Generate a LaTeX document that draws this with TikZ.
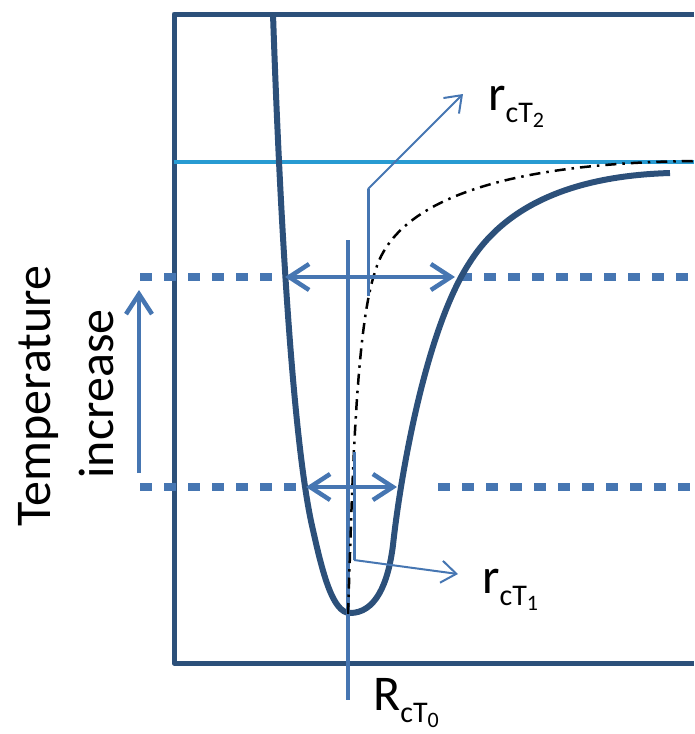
\documentclass[tikz,border=0pt]{standalone}
\usepackage{fontspec}
\setmainfont{Carlito}
\usetikzlibrary{arrows.meta, positioning, calc}
\definecolor{WellDark}{RGB}{44, 80, 122}
\definecolor{WellBlue}{RGB}{70, 118, 178}
\definecolor{WellCyan}{RGB}{40, 155, 210}

\tikzset{
  frameline/.style={draw=WellDark, line width=5pt, line join=round},
  potential/.style={draw=WellDark, line width=6pt},
  levelline/.style={draw=WellBlue, line width=8pt, dash pattern=on 12pt off 12pt},
  widtharrow/.style={draw=WellBlue, line width=4.5pt, {Straight Barb[length=20pt,width=26pt]}-{Straight Barb[length=20pt,width=26pt]}},
  temparrow/.style={draw=WellBlue, line width=4.5pt, -{Straight Barb[length=20pt,width=26pt]}},
  leader/.style={draw=WellBlue, line width=2pt, -{Straight Barb[length=15pt,width=22pt]}},
  biglabel/.style={inner sep=0pt, anchor=base west}
}
\newcommand{\radiuslabel}[3]{{\fontsize{50}{50}\selectfont #1}\raisebox{-12pt}{\fontsize{30}{30}\selectfont #2\raisebox{-5pt}{\fontsize{22}{22}\selectfont #3}}}

\begin{document}
\begin{tikzpicture}[x=1pt, y=-1pt]
  \useasboundingbox (0,0) rectangle (694,734);

  % axes
  \draw[frameline] (694,14) -- (174,14) -- (174,663) -- (694,663);
  \draw[WellCyan, line width=3.5pt] (174,162) -- (694,162);

  % temperature levels
  \coordinate (upleft) at (140,277);
  \coordinate (upA) at (285,277);
  \coordinate (upB) at (455,277);
  \coordinate (upright) at (694,277);
  \coordinate (lowleft) at (140,487);
  \coordinate (lowA) at (306,487);
  \coordinate (lowB) at (397,487);
  \coordinate (lowright) at (694,487);
  \draw[levelline] (upleft) -- (273,277);
  \draw[levelline] (460,277) -- (upright);
  \draw[levelline] (lowleft) -- (300,487);
  \draw[levelline] (438,487) -- (lowright);

  % potential well
  \draw[potential] (273,14) .. controls (281,250) and (295,455) .. (313,530)
    .. controls (323,575) and (333,613) .. (350,613)
    .. controls (375,613) and (388,585) .. (393,545)
    .. controls (400,480) and (425,330) .. (470,262)
    .. controls (505,207) and (570,176) .. (670,173);

  % equilibrium line
  \coordinate (Rtop) at (348,240);
  \coordinate (Rbot) at (348,700);
  \draw[WellBlue, line width=3.5pt] (Rtop) -- (Rbot);
  \node[biglabel] (R0) at (373,710) {\radiuslabel{R}{cT}{0}};

  % shifted minimum
  \draw[black, line width=2.5pt, dash pattern=on 11pt off 6pt on 2.5pt off 6pt]
    (348,614) .. controls (352,500) and (355,330) .. (375,272)
    .. controls (395,200) and (505,163) .. (694,161);

  % widths
  \draw[widtharrow] (upA) -- (upB);
  \draw[widtharrow] (lowA) -- (lowB);

  % leaders
  \coordinate (lead2a) at (368,296);
  \coordinate (lead2b) at (368,189);
  \coordinate (lead2c) at (463,94);
  \draw[WellBlue, line width=3pt] (lead2a) -- (lead2b);
  \draw[leader] (lead2b) -- (lead2c);
  \node[biglabel] (r2) at (488,110) {\radiuslabel{r}{cT}{2}};

  \coordinate (lead1a) at (354,452);
  \coordinate (lead1b) at (354,560);
  \coordinate (lead1c) at (458,574);
  \draw[WellBlue, line width=3pt] (lead1a) -- (lead1b);
  \draw[leader] (lead1b) -- (lead1c);
  \node[biglabel] (r1) at (482,593) {\radiuslabel{r}{cT}{1}};

  % temperature
  \coordinate (tempstart) at (139,473);
  \coordinate (tempend) at (139,290);
  \draw[temparrow] (tempstart) -- (tempend);
  \node[rotate=90, anchor=base, inner sep=0pt, font=\fontsize{50}{50}\selectfont] (templine1) at (50,396) {Temperature};
  \node[rotate=90, anchor=base, inner sep=0pt, font=\fontsize{50}{50}\selectfont] (templine2) at (113,394) {increase};
\end{tikzpicture}
\end{document}
